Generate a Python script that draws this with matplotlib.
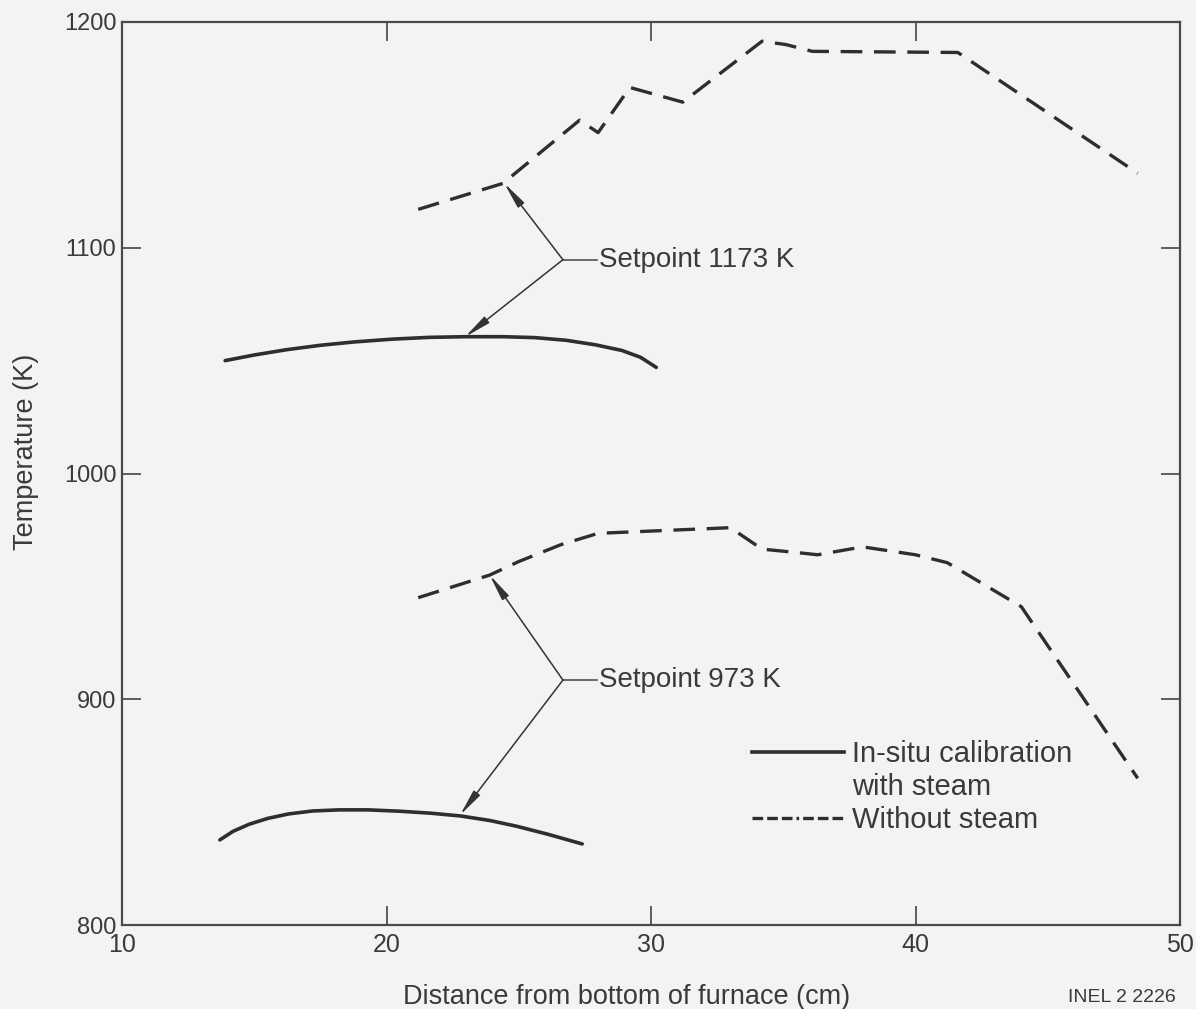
import matplotlib
matplotlib.use("Agg")
import matplotlib.pyplot as plt

# ---- data ----
# Setpoint 1173 K, without steam (dashed)
x_hi_dry = [21.2, 24.4, 27.3, 28.0, 29.2, 31.2, 34.2, 35.1, 36.1, 41.6, 48.4]
t_hi_dry = [1117, 1128.5, 1156.5, 1151, 1171, 1164.5, 1191.5, 1190, 1187, 1186.5, 1133]
# Setpoint 1173 K, in-situ calibration with steam (solid)
x_hi_wet = [13.9, 15.0, 16.2, 17.5, 18.8, 20.2, 21.6, 23.0, 24.4, 25.6, 26.8, 27.9, 28.9, 29.6, 30.2]
t_hi_wet = [1050, 1052.5, 1054.8, 1056.8, 1058.3, 1059.5, 1060.3, 1060.6, 1060.6, 1060.2,
            1059.0, 1057.0, 1054.5, 1051.5, 1047.0]
# Setpoint 973 K, without steam (dashed)
x_lo_dry = [21.2, 23.9, 25.0, 26.6, 28.0, 33.0, 34.2, 35.5, 36.3, 38.0, 40.0, 41.2, 44.0, 48.4]
t_lo_dry = [945, 955, 961, 968.5, 973.5, 976, 966.5, 965, 964, 967.5, 964, 960.5, 941, 865]
# Setpoint 973 K, in-situ calibration with steam (solid)
x_lo_wet = [13.7, 14.2, 14.8, 15.5, 16.3, 17.2, 18.2, 19.3, 20.5, 21.7, 22.8, 23.9, 24.9, 26.1, 27.4]
t_lo_wet = [837.7, 841.5, 844.6, 847.2, 849.2, 850.5, 851.0, 851.0, 850.4, 849.5, 848.3,
            846.3, 843.8, 840.2, 835.9]

x_ticks = [10, 20, 30, 40, 50]
y_ticks = [800, 900, 1000, 1100, 1200]

# annotation anchors
sp_hi_label = "Setpoint 1173 K"
sp_lo_label = "Setpoint 973 K"
sp_hi_junction = (26.67, 1094.7)
sp_lo_junction = (26.67, 908.5)
sp_hi_tips = [(24.45, 1128.6), (22.97, 1060.5)]
sp_lo_tips = [(23.9, 955.0), (22.78, 848.7)]

# ---- styling ----
plt.rcParams["font.family"] = ["Liberation Sans", "DejaVu Sans"]

ink = "#2e2e2e"
txt = "#3a3a3a"
bg = "#f3f3f1"

fig = plt.figure(figsize=(11.96, 10.09), dpi=100, facecolor=bg)
ax = fig.add_axes([122/1196, 1-925/1009, (1180-122)/1196, (925-22)/1009])
ax.set_facecolor(bg)

dash = (0, (6.5, 3.5))
ax.plot(x_hi_dry, t_hi_dry, color=ink, lw=2.4, ls=dash)
ax.plot(x_lo_dry, t_lo_dry, color=ink, lw=2.4, ls=dash)
ax.plot(x_hi_wet, t_hi_wet, color=ink, lw=2.6, solid_capstyle="round", solid_joinstyle="round")
ax.plot(x_lo_wet, t_lo_wet, color=ink, lw=2.6, solid_capstyle="round", solid_joinstyle="round")

ax.set_xlim(10, 50)
ax.set_ylim(800, 1200)
ax.set_xticks(x_ticks)
ax.set_yticks(y_ticks)
ax.tick_params(direction="in", length=14, width=1.2, color="#444444",
               top=True, right=True, labelcolor=txt)
ax.tick_params(axis="x", labelsize=18, pad=6)
ax.tick_params(axis="y", labelsize=17, pad=4)
for s in ax.spines.values():
    s.set_color("#4a4a4a")
    s.set_linewidth(1.6)

fig.text(627/1196, 1-997/1009, "Distance from bottom of furnace (cm)", fontsize=19.5,
         color=txt, ha="center", va="center")
fig.text(26/1196, 1-452/1009, "Temperature (K)", fontsize=19.5, color=txt,
         ha="center", va="center", rotation=90)
fig.text(1122/1196, 1-997/1009, "INEL 2 2226", fontsize=14, color=txt,
         ha="center", va="center")

# setpoint annotations
def setpoint(label, junction, tips):
    jx, jy = junction
    ax.plot([jx, jx + 1.3], [jy, jy], color="#444444", lw=1.1)
    ax.text(jx + 1.35, jy, label, fontsize=20, color=txt, va="center", ha="left")
    for tx, ty in tips:
        ax.annotate("", xy=(tx, ty), xytext=(jx, jy),
                    arrowprops=dict(arrowstyle="-|>,head_length=1.6,head_width=0.24",
                                    color="#333333", lw=1.1, shrinkA=0, shrinkB=0))

setpoint(sp_hi_label, sp_hi_junction, sp_hi_tips)
setpoint(sp_lo_label, sp_lo_junction, sp_lo_tips)

# legend (hand-placed as in the original)
ax.plot([33.8, 37.3], [876.6, 876.6], color=ink, lw=2.6)
ax.text(37.6, 875.8, "In-situ calibration", fontsize=21, color=txt, va="center")
ax.text(37.6, 861.2, "with steam", fontsize=21, color=txt, va="center")
ax.plot([33.8, 37.3], [847.4, 847.4], color=ink, lw=2.4,
        ls=(0, (3.2, 1.2, 3.2, 1.2, 3.2, 1.2, 0.8, 1.2, 3.2, 1.2)))
ax.text(37.6, 846.6, "Without steam", fontsize=21, color=txt, va="center")

fig.savefig("out.png", dpi=100, facecolor=bg)
